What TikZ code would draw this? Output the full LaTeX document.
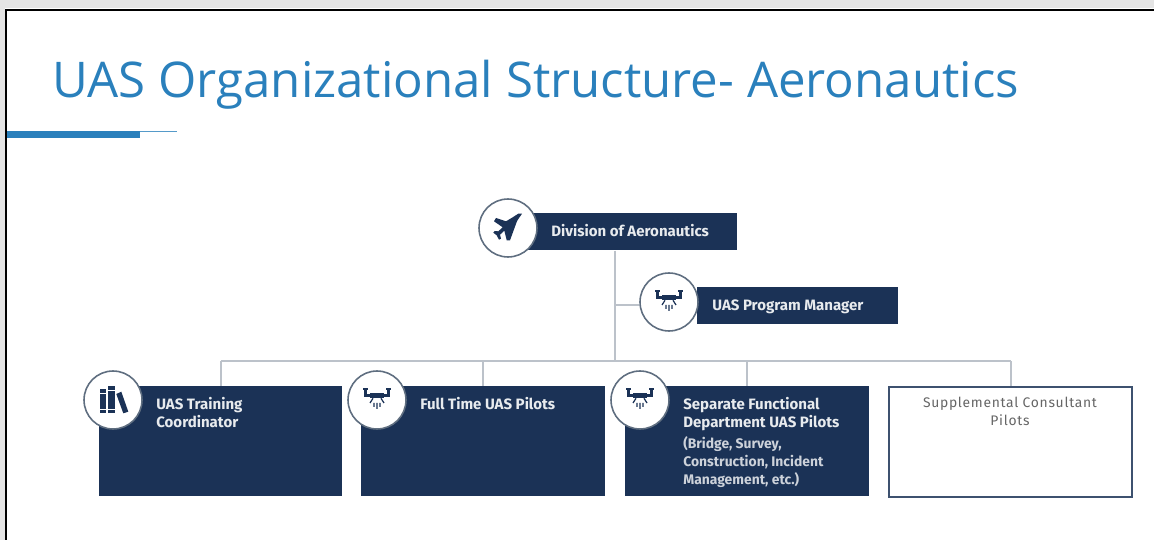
\documentclass[tikz,border=0pt]{standalone}
\usepackage{fontspec}
\setmainfont{Fira Sans}
\newfontfamily\titlefont{Open Sans}
\definecolor{navy}{HTML}{1B3256}
\definecolor{titleblue}{HTML}{2A80BC}
\definecolor{connline}{HTML}{BCC2CA}
\definecolor{ringline}{HTML}{5F6E80}
\definecolor{palegrey}{HTML}{E4E4E4}
\tikzset{
    titlebox/.style={fill=navy, draw=none, inner sep=0pt, anchor=north west},
    outlinebox/.style={fill=white, draw=navy!85, line width=1.1pt, inner sep=0pt, anchor=north west},
    ring/.style={circle, fill=white, draw=ringline, line width=0.9pt, minimum size=33pt, inner sep=0pt},
    boxlabel/.style={text=white!90!navy, font=\bfseries\fontsize{8.55}{10.2}\selectfont, align=left, anchor=north west, inner sep=0pt},
    sublabel/.style={text=white!78!navy, font=\bfseries\fontsize{7.9}{10.2}\selectfont, align=left, anchor=north west, inner sep=0pt},
    conn/.style={draw=connline, line width=1pt},
    plane/.pic={
        \fill[navy] (14,-14.3) -- (9.7,-8) -- (8.7,-6) -- (2,12.3) -- (-1.3,12.3) -- (-3.7,2.7) -- (-8,6.7) -- (-7,10.7) -- (-9,11.7) -- (-11.3,7.3) -- (-14.7,4.7) -- (-13.3,3) -- (-9.7,3.3) -- (-5.3,-0.7) -- (-14,-6.7) -- (-12,-10) -- (-2,-6.7) -- (4.7,-10.7) -- (10.3,-14.3) -- cycle;
    },
    drone/.pic={
        \fill[navy] (-7,-7.3) rectangle (7,-1.7);
        \draw[navy, line width=1.1pt] (-14,-11) -- (-9,-11) (9,-11) -- (14,-11);
        \draw[navy, line width=1.6pt] (-11.5,-11) -- (-11.5,-4.5) -- (-7,-4.5) (11.5,-11) -- (11.5,-4.5) -- (7,-4.5);
        \draw[navy, line width=0.7pt] (-4,-1.7) -- (-7,3) (4,-1.7) -- (7,3) (0,3) -- (0,9) (-3,3) -- (-3,7) (3,3) -- (3,7);
    },
    books/.pic={
        \fill[navy] (-13.3,-10.7) rectangle (-7.3,13.3);
        \fill[navy] (-5,-14) rectangle (1.7,13.3);
        \fill[navy] (3.3,-6) -- (8.3,-8.3) -- (15.3,11.7) -- (10.3,13.3) -- cycle;
        \draw[white, line width=0.5pt] (-13.3,-6.5) -- (-7.3,-6.5) (-13.3,9) -- (-7.3,9) (-5,-9.5) -- (1.7,-9.5) (-5,9) -- (1.7,9);
    }
}
\begin{document}
\begin{tikzpicture}[x=0.02cm, y=-0.02cm]
    \useasboundingbox (0,0) rectangle (1154,540);
    % page frame
    \fill[palegrey] (0,0) rectangle (1154,8);
    \fill[palegrey] (0,0) rectangle (5,540);
    \draw[black, line width=1.2pt] (6,540) -- (6,10) -- (1154,10);

    % heading
    \node[anchor=base west, inner sep=0pt, text=titleblue, font=\titlefont\fontsize{28}{34}\selectfont] (heading) at (52,98) {UAS Organizational Structure- Aeronautics};
    \fill[titleblue] (7,131) rectangle (140,138);
    \draw[titleblue!80, line width=0.6pt] (140,131.5) -- (177,131.5);

    % boxes
    \node[titlebox, minimum width=4.24cm, minimum height=0.74cm] (divbox) at (525,213) {};
    \node[titlebox, minimum width=4.02cm, minimum height=0.74cm] (mgrbox) at (697,287) {};
    \node[titlebox, minimum width=4.86cm, minimum height=2.2cm] (trainbox) at (99,386) {};
    \node[titlebox, minimum width=4.88cm, minimum height=2.2cm] (fullbox) at (361,386) {};
    \node[titlebox, minimum width=4.88cm, minimum height=2.2cm] (sepbox) at (625,386) {};
    \node[outlinebox, minimum width=4.87cm, minimum height=2.2cm] (supbox) at (888,386) {};

    % connectors
    \coordinate (bus) at (615,361);
    \coordinate (stem) at (615,305);
    \draw[conn] (divbox.south -| bus) -- (bus);
    \draw[conn] (trainbox.north |- bus) -- (supbox.north |- bus);
    \foreach \n in {trainbox,fullbox,sepbox,supbox}
        \draw[conn] (\n.north) -- (\n.north |- bus);

    % rings and icons
    \node[ring] (divring) at (508,228) {};
    \node[ring] (mgrring) at (669,302) {};
    \node[ring] (trainring) at (113,400) {};
    \node[ring] (fullring) at (377,400) {};
    \node[ring] (sepring) at (640,400) {};
    \draw[conn] (stem) -- (mgrring.west |- stem);
    \pic at (divring.center) {plane};
    \pic at (mgrring.center) {drone};
    \pic at (trainring.center) {books};
    \pic at (fullring.center) {drone};
    \pic at (sepring.center) {drone};

    % labels
    \node[boxlabel] (divtext) at (551,224) {Division of Aeronautics};
    \node[boxlabel] (mgrtext) at (712,299) {UAS Program Manager};
    \node[boxlabel] (traintext) at (156,397) {UAS Training\\Coordinator};
    \node[boxlabel] (fulltext) at (420,397) {Full Time UAS Pilots};
    \node[boxlabel] (septext) at (683,397) {Separate Functional\\Department UAS Pilots};
    \node[sublabel] (subtext) at (683,436) {(Bridge, Survey,\\Construction, Incident\\Management, etc.)};
    \node[text=black!60, font=\fontsize{7.9}{10.2}\selectfont, align=center, anchor=north, inner sep=0pt] (suptext) at (1010,397) {\addfontfeature{LetterSpace=5}Supplemental Consultant\\\addfontfeature{LetterSpace=5}Pilots};
\end{tikzpicture}
\end{document}
